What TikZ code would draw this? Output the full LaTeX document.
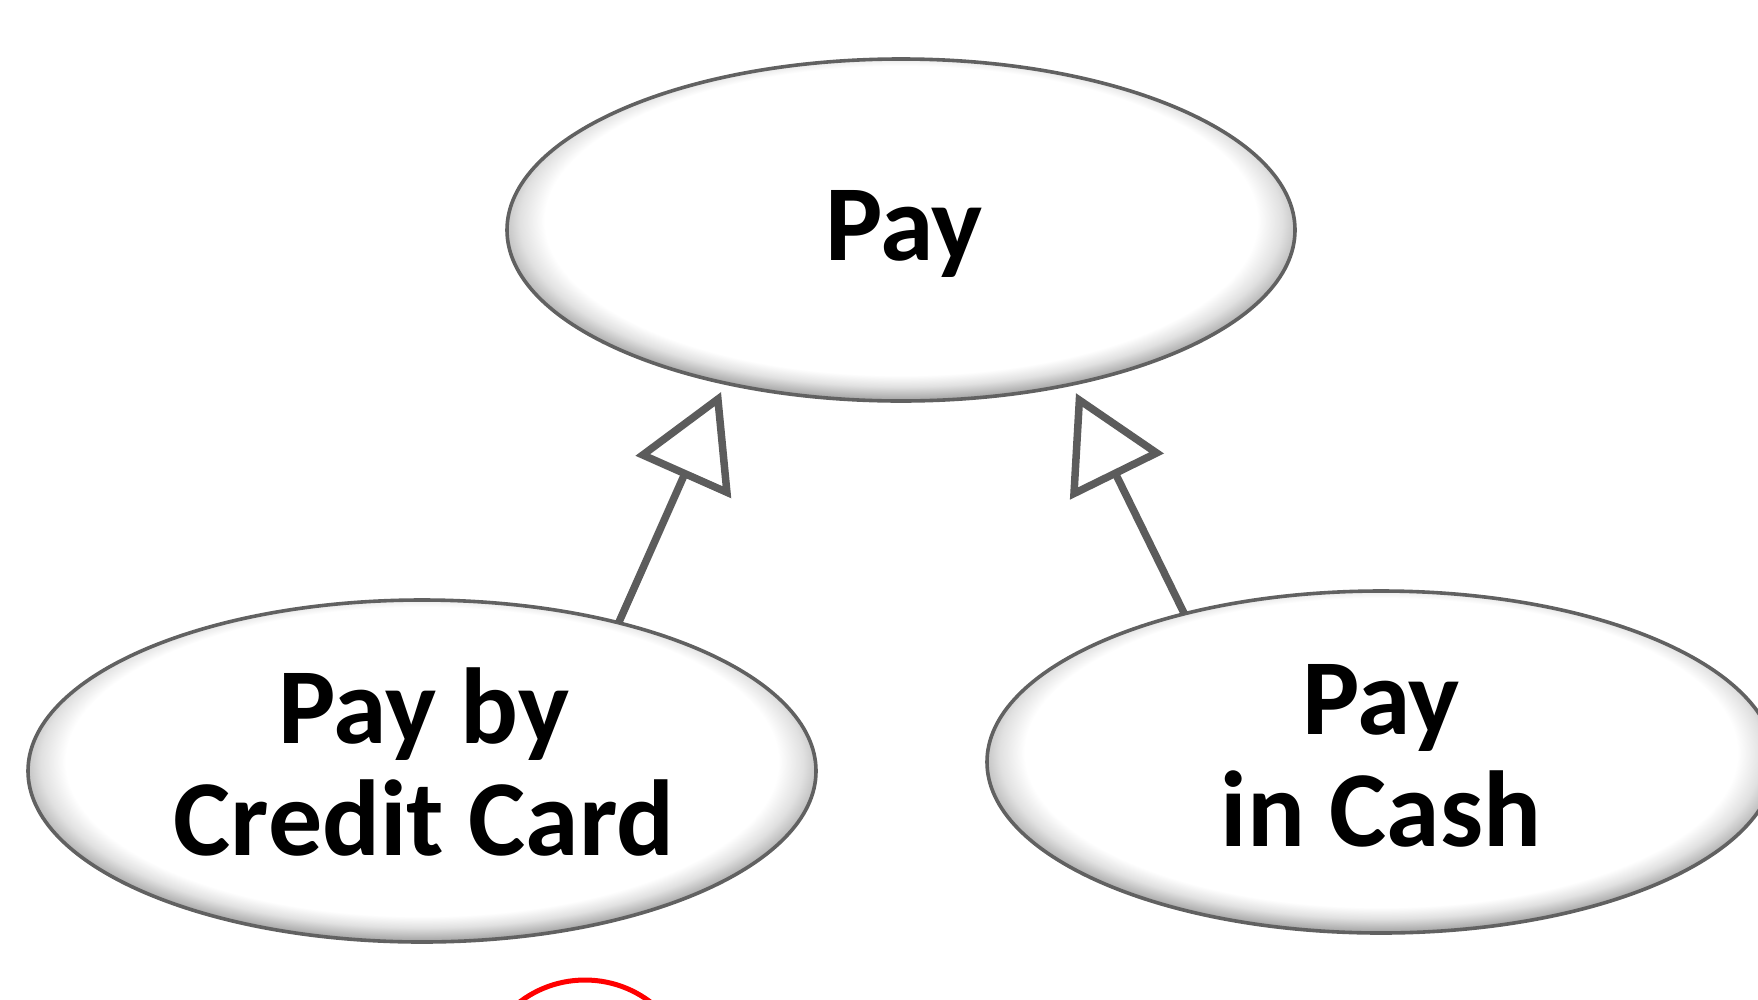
\documentclass[tikz,border=0pt]{standalone}
\usepackage{fontspec}
\setmainfont{Carlito}
\usetikzlibrary{shapes.geometric,arrows.meta}
\pgfdeclareradialshading{bevel}{\pgfpoint{0bp}{2.5bp}}{%
  color(0bp)=(white); color(22.6bp)=(white); color(24.2bp)=(black!12);
  color(26bp)=(black!35); color(27.5bp)=(black!58); color(50bp)=(black!58)}
\tikzset{
  uc/.style={ellipse, shading=bevel, draw=black!62, line width=3.6pt,
    minimum width=788pt, minimum height=342pt, inner sep=0pt, outer sep=0pt},
  lbl/.style={anchor=base, inner sep=0pt, font=\fontsize{108}{112}\selectfont\bfseries},
  gen/.style={draw=black!64, line width=7.5pt, line join=miter,
    -{Triangle[open, length=93pt, width=103pt, line join=miter]}}
}
\begin{document}
\begin{tikzpicture}[x=1pt,y=-1pt]
\useasboundingbox (0,0) rectangle (1758,999);
\clip (0,0) rectangle (1758,999);
\node[uc, outer sep=10pt] (pay) at (901,230) {};
\node[uc] (cc) at (422,771) {};
\node[uc] (cash) at (1381,762) {};
\node[lbl] (t1) at (904,260) {Pay};
\node[lbl] (t2) at (424,743) {Pay by};
\node[lbl] (t3) at (424,855) {Credit Card};
\node[lbl] (t4) at (1381,734) {Pay};
\node[lbl] (t5) at (1381,846) {in Cash};
\draw[gen] (cc.37) -- (pay.222);
\draw[gen] (cash.143) -- (pay.317);
\draw[red, line width=5pt] (585,1088) circle (108);
\end{tikzpicture}
\end{document}
